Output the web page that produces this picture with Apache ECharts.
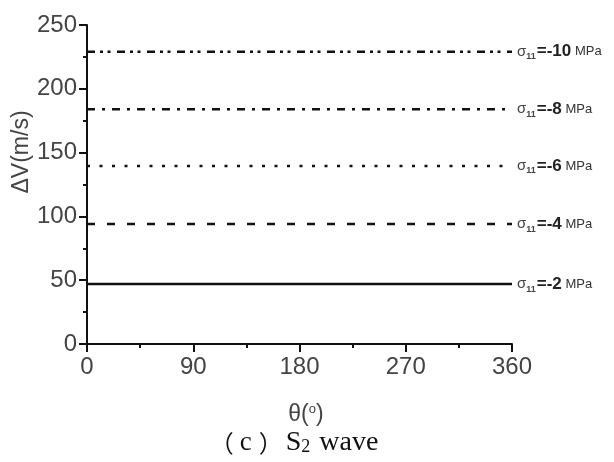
<!DOCTYPE html>
<html>
<head>
<meta charset="utf-8">
<script src="https://cdn.jsdelivr.net/npm/echarts@6/dist/echarts.min.js"></script>
<style>
html, body { margin: 0; padding: 0; background: #fff; }
#chart { width: 614px; height: 462px; }
</style>
</head>
<body>
<div id="chart"></div>
<script>
// data
var thetaRange = [0, 360];
var stressLabels = ['-2', '-4', '-6', '-8', '-10'];
var deltaV = [47, 94, 139.5, 184, 229];
var dashTypes = ['solid', [8, 12], [3, 9.5], [8, 7, 3, 7], [8, 5, 3, 4.5, 3, 6.5]];

var myChart = echarts.init(document.getElementById('chart'));

var series = [];
for (var i = 0; i < deltaV.length; i++) {
    series.push({
        name: stressLabels[i],
        type: 'line',
        symbol: 'none',
        silent: true,
        lineStyle: { color: '#111', width: 2.5, type: dashTypes[i] },
        data: [[thetaRange[0], deltaV[i]], [thetaRange[1], deltaV[i]]],
        endLabel: {
            show: true,
            distance: 5,
            formatter: function (p) {
                return '{s|σ}{sub|11}{b|=' + p.seriesName + '}{u| MPa}';
            },
            rich: {
                s: { fontFamily: 'Liberation Sans', fontSize: 15, color: '#444', lineHeight: 20 },
                sub: { fontFamily: 'Liberation Sans', fontSize: 9, fontWeight: 'bold', color: '#444', padding: [10, 1, 0, 0], lineHeight: 20 },
                b: { fontFamily: 'Liberation Sans', fontSize: 17, fontWeight: 'bold', color: '#222', lineHeight: 20 },
                u: { fontFamily: 'Liberation Sans', fontSize: 13, color: '#333', lineHeight: 20 }
            }
        }
    });
}

myChart.setOption({
    animation: false,
    grid: { left: 87, right: 102, top: 25, bottom: 118, containLabel: false },
    xAxis: {
        type: 'value',
        min: 0, max: 360, interval: 90,
        axisLine: { lineStyle: { color: '#111', width: 2 } },
        axisTick: { length: 8, lineStyle: { color: '#111', width: 2 } },
        minorTick: { show: true, splitNumber: 2, length: 4, lineStyle: { color: '#111', width: 2 } },
        splitLine: { show: false },
        axisLabel: { fontFamily: 'Liberation Sans', fontSize: 24, color: '#444', margin: 11 }
    },
    yAxis: {
        type: 'value',
        min: 0, max: 250, interval: 50,
        axisLine: { show: true, lineStyle: { color: '#111', width: 2 } },
        axisTick: { show: true, length: 8, lineStyle: { color: '#111', width: 2 } },
        minorTick: { show: true, splitNumber: 2, length: 4, lineStyle: { color: '#111', width: 2 } },
        splitLine: { show: false },
        axisLabel: { fontFamily: 'Liberation Sans', fontSize: 24, color: '#444', margin: 10 }
    },
    graphic: [
        {
            type: 'text', x: 22, y: 152, rotation: Math.PI / 2,
            style: { text: 'ΔV(m/s)', fontFamily: 'Liberation Sans', fontSize: 23, fill: '#444', align: 'center', verticalAlign: 'middle' }
        },
        {
            type: 'text', x: 306, y: 415,
            style: {
                text: '{t|θ(}{sup|o}{t|)}', align: 'center', verticalAlign: 'middle',
                rich: {
                    t: { fontFamily: 'Liberation Sans', fontSize: 23, fill: '#444', lineHeight: 26 },
                    sup: { fontFamily: 'Liberation Sans', fontSize: 13, fill: '#444', padding: [0, 0, 11, 0], lineHeight: 26 }
                }
            }
        },
        {
            type: 'text', x: 294, y: 443,
            style: {
                text: '{pl|（}{c|c}{pr|）}{t|S}{sub|2}{t| wave}', align: 'center', verticalAlign: 'middle',
                rich: {
                    pl: { fontFamily: 'Noto Sans CJK SC', fontSize: 24, fill: '#111', lineHeight: 28, width: 24, align: 'left' },
                    pr: { fontFamily: 'Noto Sans CJK SC', fontSize: 24, fill: '#111', lineHeight: 28, width: 30, align: 'left' },
                    c: { fontFamily: 'Liberation Serif', fontSize: 27, fill: '#111', lineHeight: 28, padding: [0, 4, 0, 6] },
                    t: { fontFamily: 'Liberation Serif', fontSize: 28, fill: '#111', lineHeight: 28 },
                    sub: { fontFamily: 'Liberation Serif', fontSize: 18, fill: '#111', padding: [9, 2, 0, 0], lineHeight: 28 }
                }
            }
        }
    ],
    series: series
});
</script>
</body>
</html>
